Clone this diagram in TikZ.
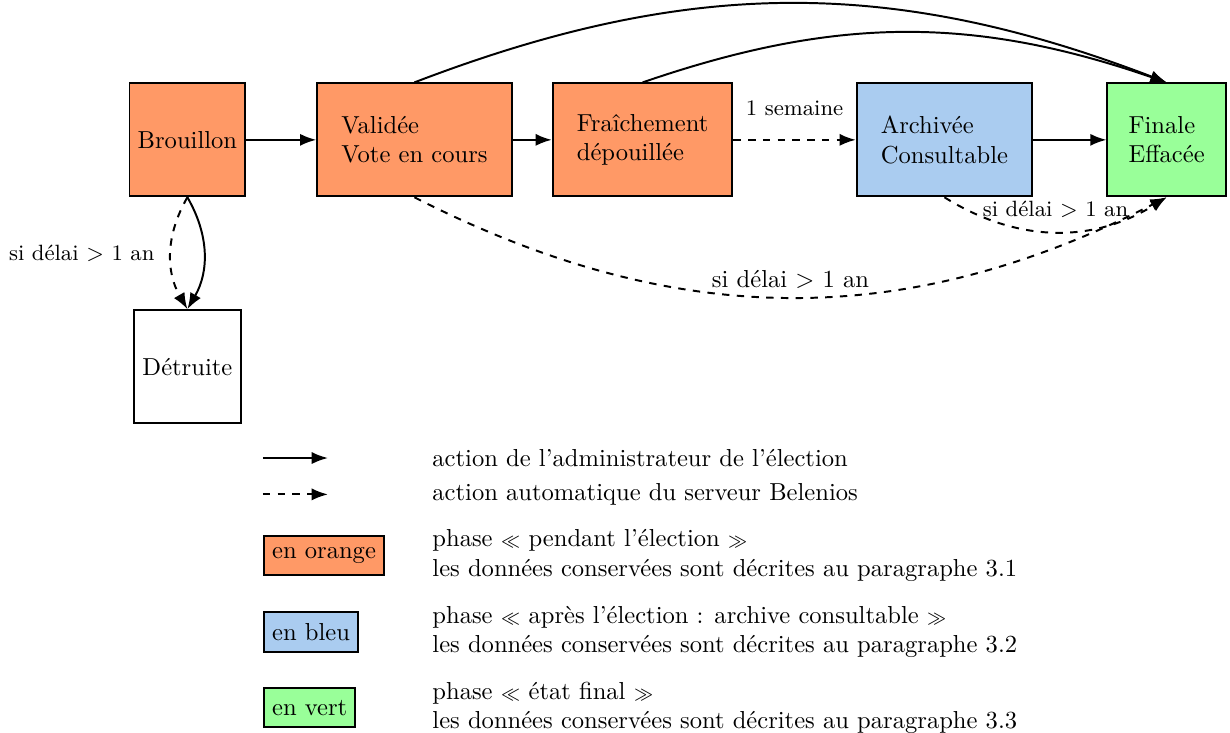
\documentclass[tikz,border=0pt]{standalone}
\usepackage{fontspec}
\usetikzlibrary{arrows.meta, positioning}

\definecolor{phaseorange}{RGB}{255,153,102}
\definecolor{phasebleu}{RGB}{170,204,240}
\definecolor{phasevert}{RGB}{153,255,153}

\newcommand{\guilg}{$\scriptstyle\ll$}
\newcommand{\guild}{$\scriptstyle\gg$}

\begin{document}
\begin{tikzpicture}[
        etat/.style={rectangle, draw, thick, minimum height=1.615cm, align=left},
        etatlarge/.style={etat, inner xsep=9.8pt},
        legende/.style={rectangle, draw, thick, anchor=west, inner ysep=4.7pt},
        texte/.style={anchor=west, align=left},
        action/.style={-{Latex}, thick},
        automatique/.style={action, dashed}
    ]
        \useasboundingbox (-2.68,2.00) rectangle (14.91,-8.48);

        % Etats de l'election
        \node[etat, fill=phaseorange] (brouillon) {Brouillon};
        \node[etatlarge, fill=phaseorange, right=1.00cm of brouillon] (validee) {Validée\\Vote en cours};
        \node[etatlarge, fill=phaseorange, right=0.56cm of validee] (fraichement) {Fraîchement\\dépouillée};
        \node[etatlarge, fill=phasebleu, right=1.75cm of fraichement] (archivee) {Archivée\\Consultable};
        \node[etatlarge, fill=phasevert, inner xsep=8.6pt, right=1.05cm of archivee] (finale) {Finale\\Effacée};
        \node[etat, below=1.60cm of brouillon] (detruite) {Détruite};

        % Transitions
        \draw[action] (brouillon) -- (validee);
        \draw[action] (validee) -- (fraichement);
        \draw[automatique] (fraichement) -- node[above=6pt, font=\small] {1 semaine} (archivee);
        \draw[action] (archivee) -- (finale);
        \draw[action] (validee.north) to[bend left=21] (finale.north);
        \draw[action] (fraichement.north) to[bend left=19] (finale.north);
        \draw[automatique] (validee.south) to[bend right=27] node[above] {si délai $>$ 1 an} (finale.south);
        \draw[automatique] (archivee.south) to[bend right=32] node[above=2pt, font=\small] {si délai $>$ 1 an} (finale.south);
        \draw[action] (brouillon.south) to[bend left=30] (detruite.north);
        \draw[automatique] (brouillon.south) to[bend right=30] node[left=3pt, font=\small] {si délai $>$ 1 an} (detruite.north);

        % Legende
        \coordinate (solideA) at (1.08,-4.55);
        \coordinate (solideB) at (2.01,-4.55);
        \coordinate (tiretA) at (1.08,-5.07);
        \coordinate (tiretB) at (2.01,-5.07);
        \draw[action] (solideA) -- (solideB);
        \draw[automatique] (tiretA) -- (tiretB);
        \node[texte] (txtadmin) at (3.38,-4.55) {action de l'administrateur de l'élection};
        \node[texte] (txtserveur) at (3.38,-5.07) {action automatique du serveur Belenios};

        \node[legende, fill=phaseorange] (lorange) at (1.08,-5.94) {en orange};
        \node[texte] (txtorange) at (3.38,-5.94) {phase \guilg{} pendant l'élection \guild\\les données conservées sont décrites au paragraphe 3.1};
        \node[legende, fill=phasebleu] (lbleu) at (1.08,-7.04) {en bleu};
        \node[texte] (txtbleu) at (3.38,-7.04) {phase \guilg{} après l'élection : archive consultable \guild\\les données conservées sont décrites au paragraphe 3.2};
        \node[legende, fill=phasevert] (lvert) at (1.08,-8.12) {en vert};
        \node[texte] (txtvert) at (3.38,-8.12) {phase \guilg{} état final \guild\\les données conservées sont décrites au paragraphe 3.3};

    \end{tikzpicture}
\end{document}
